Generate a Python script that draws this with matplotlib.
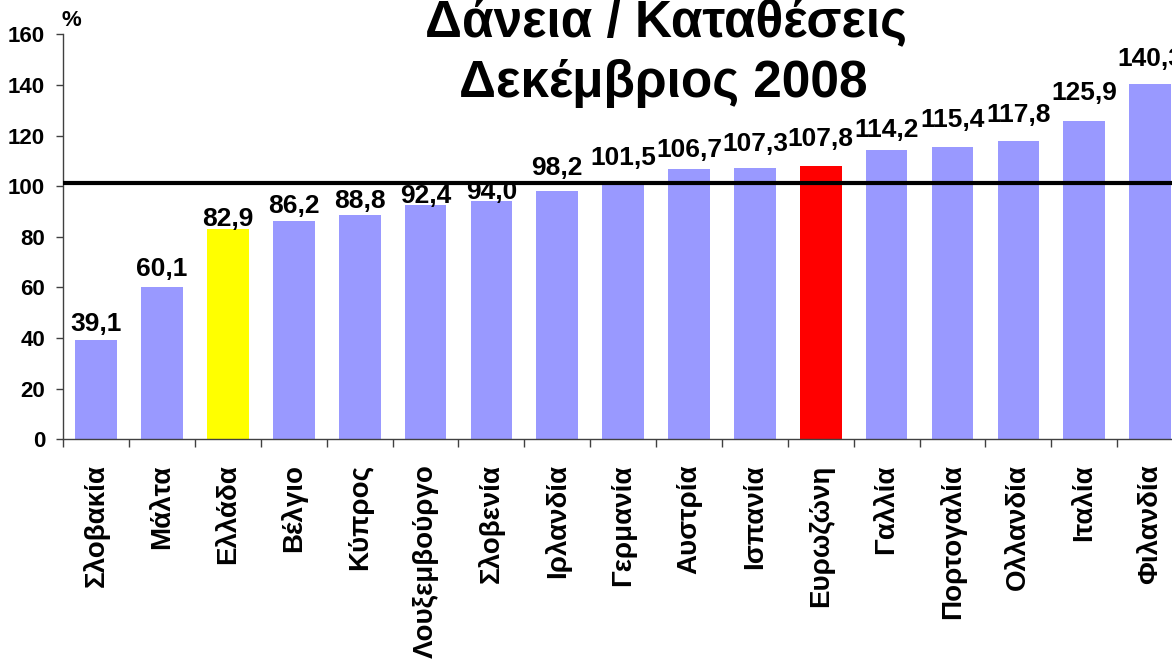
import matplotlib
matplotlib.use("Agg")
import matplotlib.pyplot as plt
from matplotlib.ticker import FixedLocator, NullFormatter

plt.rcParams['font.family'] = ['Liberation Sans', 'DejaVu Sans']

categories = ["Σλοβακία", "Μάλτα", "Ελλάδα", "Βέλγιο", "Κύπρος", "Λουξεμβούργο",
              "Σλοβενία", "Ιρλανδία", "Γερμανία", "Αυστρία", "Ισπανία", "Ευρωζώνη",
              "Γαλλία", "Πορτογαλία", "Ολλανδία", "Ιταλία", "Φιλανδία"]
values = [39.1, 60.1, 82.9, 86.2, 88.8, 92.4, 94.0, 98.2, 101.5, 106.7, 107.3, 107.8,
          114.2, 115.4, 117.8, 125.9, 140.3]
value_labels = ["39,1", "60,1", "82,9", "86,2", "88,8", "92,4", "94,0", "98,2", "101,5",
                "106,7", "107,3", "107,8", "114,2", "115,4", "117,8", "125,9", "140,3"]
reference_line = 101.1
y_ticks = [0, 20, 40, 60, 80, 100, 120, 140, 160]

# label gap above bar top (pixels), as placed in the original
label_gap_px = [9, 11, 3, 8, 7, 2, 2, 16, 17, 12, 17, 20, 13, 20, 19, 21, 18]

base_color = "#9999FF"
special_colors = {"Ελλάδα": "#FFFF00", "Ευρωζώνη": "#FF0000"}
colors = [special_colors.get(c, base_color) for c in categories]

fig = plt.figure(figsize=(11.72, 6.64), dpi=100)
ax = fig.add_axes([0.0540, 0.3384, 0.9554, 0.6099])

x = list(range(len(categories)))
ax.bar(x, values, width=0.633, color=colors, edgecolor='none', zorder=2)
ax.axhline(reference_line, color='black', linewidth=3, zorder=3)

for xi, v, lab, g in zip(x, values, value_labels, label_gap_px):
    ax.annotate(lab, xy=(xi, v), xytext=(0, g * 0.72), textcoords='offset points',
                ha='center', va='baseline', fontsize=19, fontweight='bold', zorder=4)

ax.set_xlim(-0.5, len(categories) - 0.5)
ax.set_ylim(0, 160)
ax.set_yticks(y_ticks)
ax.set_yticklabels([str(t) for t in y_ticks], fontsize=16, fontweight='bold')
ax.tick_params(axis='y', length=5, width=1, color='#404040', pad=8)

ax.set_xticks(x)
ax.set_xticklabels(categories, rotation=90, fontsize=20, fontweight='bold', va='top')
ax.tick_params(axis='x', which='major', length=0, pad=18)
ax.xaxis.set_minor_locator(FixedLocator([i - 0.5 for i in range(len(categories) + 1)]))
ax.xaxis.set_minor_formatter(NullFormatter())
ax.tick_params(axis='x', which='minor', length=6, width=1, color='#404040')

for s in ['top', 'right']:
    ax.spines[s].set_visible(False)
for s in ['left', 'bottom']:
    ax.spines[s].set_color('#404040')
    ax.spines[s].set_linewidth(1)

fig.text(0.5678, 1 - 36 / 664, "Δάνεια / Καταθέσεις", ha='center', va='baseline',
         fontsize=37, fontweight='bold')
fig.text(0.5662, 1 - 97 / 664, "Δεκέμβριος 2008", ha='center', va='baseline',
         fontsize=37, fontweight='bold')
fig.text(62 / 1172, 1 - 26 / 664, "%", ha='left', va='baseline', fontsize=16,
         fontweight='bold')

fig.savefig("out.png", dpi=100)
